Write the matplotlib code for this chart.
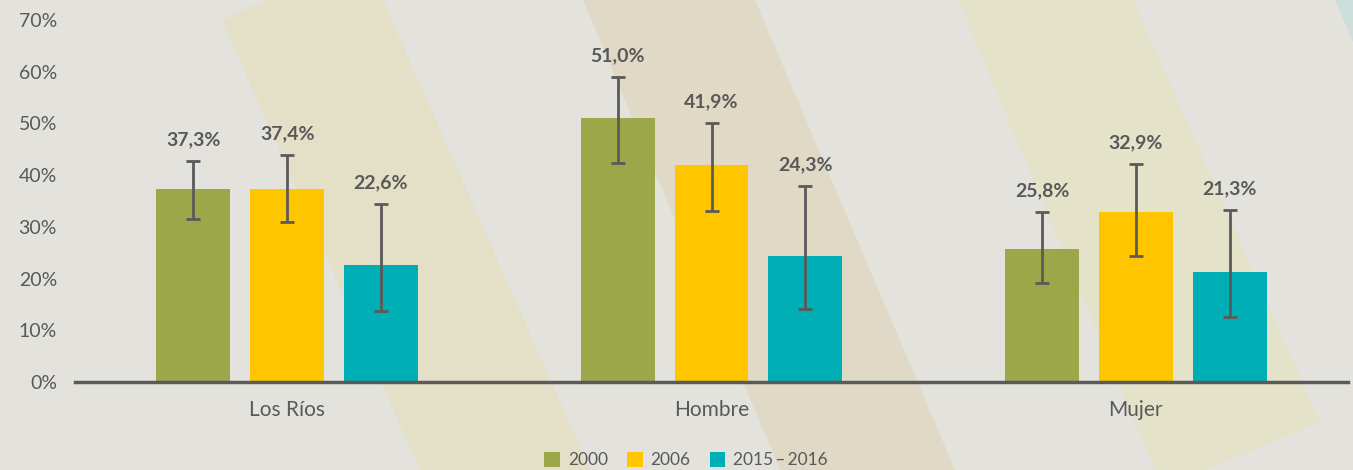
import matplotlib
matplotlib.use("Agg")
import matplotlib.pyplot as plt
from matplotlib.patches import Polygon, Patch
import numpy as np

plt.rcParams['font.family'] = ['Lato', 'DejaVu Sans']

categories = ["Los Ríos", "Hombre", "Mujer"]
series_names = ["2000", "2006", "2015\u2009–\u20092016"]
values_2000 = [37.3, 51.0, 25.8]
values_2006 = [37.4, 41.9, 32.9]
values_2015 = [22.6, 24.3, 21.3]
low_2000 = [31.5, 42.4, 19.2]
high_2000 = [42.7, 59.0, 32.9]
low_2006 = [30.9, 33.1, 24.4]
high_2006 = [43.9, 50.1, 42.2]
low_2015 = [13.7, 14.1, 12.5]
high_2015 = [34.4, 37.9, 33.3]
yticks = [0, 10, 20, 30, 40, 50, 60, 70]

colors = ["#9BA748", "#FFC600", "#00AEB5"]
txt = "#595959"
bg = "#E3E2DD"

W, H = 1353, 470
fig = plt.figure(figsize=(W / 100, H / 100), dpi=100, facecolor=bg)

bgax = fig.add_axes([0, 0, 1, 1], zorder=-5)
bgax.set_xlim(0, W)
bgax.set_ylim(H, 0)
bgax.axis("off")
stripes = [
    ([(222, 20), (267, 0), (383, 0), (590, 470), (420, 470)], "#E4DFC7"),
    ([(583, 0), (755, 0), (955, 470), (780, 470)], "#E0D9C6"),
    ([(958, 0), (1133, 0), (1320, 422), (1206, 470), (1155, 470)], "#E4E3C9"),
    ([(1335, 0), (1353, 0), (1353, 42)], "#CCDFDA"),
]
for pts, c in stripes:
    bgax.add_patch(Polygon(pts, closed=True, facecolor=c, edgecolor="none"))

ax = fig.add_axes([75 / W, 88 / H, (1348 - 75) / W, (382 - 20) / H])
ax.set_facecolor("none")

x = np.arange(len(categories))
step = 0.221
width = 0.174
series = [
    (values_2000, low_2000, high_2000),
    (values_2006, low_2006, high_2006),
    (values_2015, low_2015, high_2015),
]
for i, (vals, lo, hi) in enumerate(series):
    xs = x + (i - 1) * step
    vals = np.array(vals)
    lo = np.array(lo)
    hi = np.array(hi)
    ax.bar(xs, vals, width=width, color=colors[i], zorder=2)
    ax.errorbar(xs, vals, yerr=[vals - lo, hi - vals], fmt="none",
                ecolor="#5A5A5A", elinewidth=2, capsize=5, capthick=2, zorder=3)
    for xi, v, h in zip(xs, vals, hi):
        ax.annotate(f"{v:.1f}%".replace(".", ","), (xi, h), xytext=(0, 9),
                    textcoords="offset points", ha="center", va="bottom",
                    fontsize=14, fontweight="bold", color=txt)

ax.set_xlim(-0.5, 2.5)
ax.set_ylim(0, 70)
ax.set_yticks(yticks)
ax.set_yticklabels([f"{t}%" for t in yticks], fontsize=14, color=txt)
ax.set_xticks(x)
ax.set_xticklabels(categories, fontsize=15, color=txt)
ax.tick_params(axis="both", length=0)
ax.tick_params(axis="x", pad=13)
ax.tick_params(axis="y", pad=13)
for s in ["top", "right", "left"]:
    ax.spines[s].set_visible(False)
ax.spines["bottom"].set_color("#5A5A5A")
ax.spines["bottom"].set_linewidth(2.5)
ax.spines["bottom"].set_zorder(4)

handles = [Patch(facecolor=c, edgecolor="none") for c in colors]
fig.legend(handles, series_names, loc="lower center", bbox_to_anchor=(686 / W, -0.03),
           ncol=3, frameon=False, fontsize=12.5, handlelength=0.9, handleheight=0.9,
           handletextpad=0.45, columnspacing=1.1, labelcolor=txt)

fig.savefig("out.png", dpi=100, facecolor=bg)
